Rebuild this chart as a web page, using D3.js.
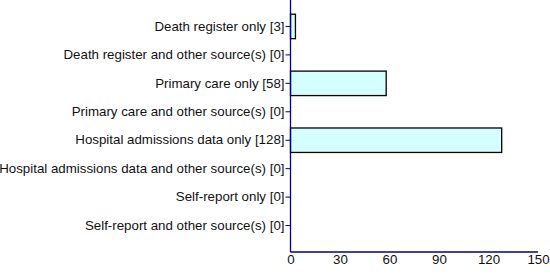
<!DOCTYPE html>
<html>
<head>
<meta charset="utf-8">
<script src="https://cdn.jsdelivr.net/npm/d3@7"></script>
<style>
  body { margin: 0; background: #fff; }
  text { font-family: "Liberation Sans", Arial, sans-serif; }
</style>
</head>
<body>
<script>
// categories and counts, top to bottom
const categories = [
  "Death register only",
  "Death register and other source(s)",
  "Primary care only",
  "Primary care and other source(s)",
  "Hospital admissions data only",
  "Hospital admissions data and other source(s)",
  "Self-report only",
  "Self-report and other source(s)"
];
const counts = [3, 0, 58, 0, 128, 0, 0, 0];
const xTicks = [0, 30, 60, 90, 120, 150];

const WIDTH = 550, HEIGHT = 276;
const margin = { top: 0, right: 12, bottom: 24, left: 290.5 };

const svg = d3.select("body").append("svg")
  .attr("width", WIDTH).attr("height", HEIGHT);

const g = svg.append("g").attr("transform", `translate(${margin.left},${margin.top})`);
const w = WIDTH - margin.left - margin.right;
const h = HEIGHT - margin.top - margin.bottom;

const labels = categories.map((c, i) => c + " [" + counts[i] + "]");

const x = d3.scaleLinear().domain([0, 150]).range([0, w]);
const y = d3.scaleBand().domain(labels).range([0, h]).paddingInner(0.14).paddingOuter(0.5);

g.selectAll("rect")
  .data(counts)
  .enter()
  .append("rect")
  .attr("x", 0)
  .attr("y", (d, i) => y(labels[i]))
  .attr("width", d => x(d))
  .attr("height", y.bandwidth())
  .attr("fill", d => d > 0 ? "#d4ffff" : "none")
  .attr("stroke", d => d > 0 ? "#000" : "none")
  .attr("stroke-width", 1.3);

const yAxis = g.append("g")
  .call(d3.axisLeft(y).tickSize(5).tickPadding(1));
yAxis.select(".domain").attr("stroke", "#00008b").attr("stroke-width", 1.3)
  .attr("d", `M0,0V${h}`);
yAxis.selectAll(".tick line").attr("stroke", "#00008b");
yAxis.selectAll(".tick text").attr("fill", "#111").attr("font-size", 13.3)
  .attr("font-family", "'Liberation Sans', Arial, sans-serif");

const xAxis = g.append("g")
  .attr("transform", `translate(0,${h})`)
  .call(d3.axisBottom(x).tickValues(xTicks).tickSize(0).tickPadding(3));
xAxis.select(".domain").attr("stroke", "#00008b").attr("stroke-width", 1.3)
  .attr("d", `M0,0H${w}`);
xAxis.selectAll(".tick text").attr("fill", "#111").attr("font-size", 13.3)
  .attr("font-family", "'Liberation Sans', Arial, sans-serif");
</script>
</body>
</html>
